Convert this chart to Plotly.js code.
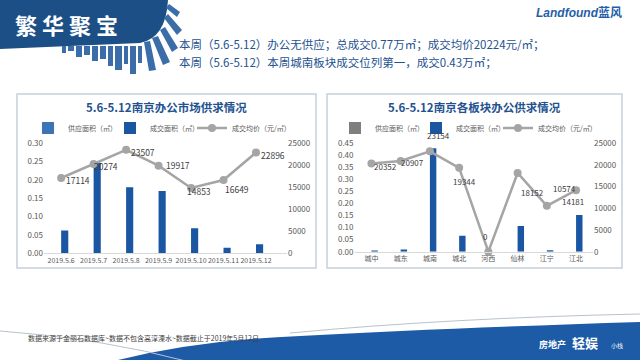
<!DOCTYPE html>
<html><head><meta charset="utf-8">
<script src="https://cdn.plot.ly/plotly-3.0.1.min.js"></script>
<style>html,body{margin:0;padding:0;background:#fff;overflow:hidden}#c{width:640px;height:360px}</style>
</head><body><div id="c"></div>
<script>
// ---- data ----
const datesL = ['2019.5.6','2019.5.7','2019.5.8','2019.5.9','2019.5.10','2019.5.11','2019.5.12'];
const supplyL = [0,0,0,0,0,0,0];
const dealL = [0.062,0.247,0.180,0.170,0.068,0.015,0.025];
const priceL = [17114,20274,23507,19917,14853,16649,22896];

const areasR = ['城中','城东','城南','城北','河西','仙林','江宁','江北'];
const supplyR = [0,0,0,0,0,0,0,0];
const dealR = [0.005,0.009,0.429,0.066,0,0.107,0.006,0.152];
const priceR = [20352,20907,23154,19344,0,18152,10574,14181];

const legendNames = ['供应面积（㎡）','成交面积（㎡）','成交均价（元/㎡）'];
const titleL = '5.6-5.12南京办公市场供求情况';
const titleR = '5.6-5.12南京各板块办公供求情况';
const line1 = '本周（5.6-5.12）办公无供应；总成交0.77万㎡；成交均价20224元/㎡；';
const line2 = '本周（5.6-5.12）本周城南板块成交位列第一，成交0.43万㎡；';
const footer = '数据来源于金丽石数据库~数据不包含高淳溧水~数据截止于2019年5月12日';

// label offsets in pixels (style only)
const offL = [[17,2],[12,2],[17,2],[19,-1],[8,3],[13,9],[17,2]];
const offR = [[14,3],[12,1],[9,-16],[5,14],[-3,-15],[15,20],[18,-17],[-3,11]];

// ---- helpers ----
const W=640,H=360;
const px=x=>x/W, py=y=>1-y/H;
const P=s=>s.replace(/(-?\d+\.?\d*),(-?\d+\.?\d*)/g,(m,a,b)=>(a/W).toFixed(5)+','+(1-b/H).toFixed(5));
const F='"Noto Sans CJK SC", "Noto Sans", sans-serif';
const blueTitle='#24528f';
const tickF={family:F,size:8,color:'#595959'};

const traces=[
 {type:'bar',name:legendNames[0],x:datesL,y:supplyL,xaxis:'x',yaxis:'y',marker:{color:'#3e73b9'},legend:'legend'},
 {type:'bar',name:legendNames[1],x:datesL,y:dealL,xaxis:'x',yaxis:'y',marker:{color:'#1b56a3'},legend:'legend2'},
 {type:'scatter',mode:'lines+markers',name:legendNames[2],x:datesL,y:priceL,xaxis:'x',yaxis:'y2',
  line:{color:'#a5a5a5',width:2.5},marker:{color:'#a5a5a5',size:8},cliponaxis:false,legend:'legend3'},
 {type:'bar',name:legendNames[0],x:areasR,y:supplyR,xaxis:'x2',yaxis:'y3',marker:{color:'#7f7f7f'},legend:'legend4'},
 {type:'bar',name:legendNames[1],x:areasR,y:dealR,xaxis:'x2',yaxis:'y3',marker:{color:'#1b56a3'},legend:'legend5'},
 {type:'scatter',mode:'lines+markers',name:legendNames[2],x:areasR,y:priceR,xaxis:'x2',yaxis:'y4',
  line:{color:'#a5a5a5',width:2.5},marker:{color:'#a5a5a5',size:8},cliponaxis:false,legend:'legend6'}
];

const xCommon={type:'category',showgrid:false,showline:true,linecolor:'#d9d9d9',linewidth:1,ticks:'',tickangle:0,tickfont:{family:F,size:7,color:'#595959'},fixedrange:true,automargin:false};
const yCommon={showgrid:false,zeroline:false,showline:false,ticks:'',tickfont:tickF,fixedrange:true,automargin:false};

const banner='#1d4f87', sky='#3b6ea8';
const shapes=[
 {type:'rect',xref:'paper',yref:'paper',x0:px(17),x1:px(316),y0:py(268),y1:py(94),line:{color:'#c5d0dc',width:1.5},fillcolor:'rgba(0,0,0,0)',layer:'below'},
 {type:'rect',xref:'paper',yref:'paper',x0:px(327),x1:px(622),y0:py(268),y1:py(94),line:{color:'#c5d0dc',width:1.5},fillcolor:'rgba(0,0,0,0)',layer:'below'},
 {type:'path',xref:'paper',yref:'paper',path:P('M 0,0 L 168,0 Q 166,38 140,43 L 0,49 Z'),fillcolor:banner,line:{width:0}},
 {type:'path',xref:'paper',yref:'paper',path:P('M 118,360 Q 200,340 300,336 Q 450,328 640,322 L 640,360 Z'),fillcolor:'#1d5ba7',line:{width:0}},
 {type:'path',xref:'paper',yref:'paper',path:P('M 0,331 Q 100,338 190,362'),line:{color:'#b8c2cc',width:1}},
 {type:'path',xref:'paper',yref:'paper',path:P('M 290,333 Q 450,318 640,314'),line:{color:'#b8c2cc',width:1}}
];
const bld=[[62,66,53],[68,74,51],[76,82,57],[84,90,55],[92,98,61],[100,106,59],[108,113,66],[115,122,70],[124,128,64],[130,136,74],[138,142,63]];
bld.forEach(b=>shapes.push({type:'rect',xref:'paper',yref:'paper',x0:px(b[0]),x1:px(b[1]),y0:py(b[2]),y1:py(46),fillcolor:sky,line:{width:0}}));
const slant=['M 144,42 L 150,41 L 156,70 L 149,71 Z','M 152,38 L 158,36 L 170,62 L 163,65 Z','M 160,30 L 165,27 L 178,48 L 172,52 Z','M 164,18 L 168,14 L 182,30 L 177,35 Z','M 166,8 L 169,4 L 180,12 L 177,17 Z'];
slant.forEach(s=>shapes.push({type:'path',xref:'paper',yref:'paper',path:P(s),fillcolor:sky,line:{width:0}}));

const ann=(x,y,t,o)=>Object.assign({xref:'paper',yref:'paper',x:px(x),y:py(y),text:t,showarrow:false,xanchor:'left',yanchor:'middle'},o||{});
const annotations=[
 ann(13,24,'<b>繁 华 聚 宝</b>',{font:{family:F,size:22,color:'#ffffff'}}),
 ann(177,44,line1,{font:{family:F,size:11.5,color:blueTitle}}),
 ann(177,62,line2,{font:{family:F,size:11.5,color:blueTitle}}),
 ann(534,13,'<b><i>Landfound</i>蓝风</b>',{font:{family:'"Liberation Sans", '+F,size:12,color:'#1f5fa8'}}),
 ann(166,107,'<b>'+titleL+'</b>',{xanchor:'center',font:{family:F,size:11.5,color:blueTitle}}),
 ann(474,107,'<b>'+titleR+'</b>',{xanchor:'center',font:{family:F,size:11.5,color:blueTitle}}),
 ann(26,338,footer,{font:{family:F,size:7,color:'#404040'}}),
 ann(537,344,'<b>房地产</b>',{font:{family:F,size:9,color:'#ffffff'}}),
 ann(570,342,'<b>轻娱</b>',{font:{family:F,size:13,color:'#ffffff'}}),
 ann(609,345,'小栈',{font:{family:F,size:6,color:'#ffffff'}})
];
datesL.forEach((d,i)=>annotations.push({xref:'x',yref:'y2',x:d,y:priceL[i],text:String(priceL[i]),showarrow:false,
  xanchor:'center',yanchor:'middle',xshift:offL[i][0],yshift:-offL[i][1],font:{family:F,size:8.5,color:'#404040'}}));
areasR.forEach((d,i)=>annotations.push({xref:'x2',yref:'y4',x:d,y:priceR[i],text:String(priceR[i]),showarrow:false,
  xanchor:'center',yanchor:'middle',xshift:offR[i][0],yshift:-offR[i][1],font:{family:F,size:8,color:'#404040'}}));

const legBase={orientation:'h',xanchor:'left',yanchor:'middle',font:{family:F,size:7,color:'#595959'},bgcolor:'rgba(0,0,0,0)',itemwidth:30,y:py(128)};
const legX=[28,110,192,335,416,498];

const layout={
 width:640,height:360,margin:{l:0,r:0,t:0,b:0,autoexpand:false},paper_bgcolor:'#ffffff',plot_bgcolor:'rgba(0,0,0,0)',
 font:{family:F},barmode:'group',bargap:0.56,bargroupgap:0,
 xaxis:Object.assign({},xCommon,{domain:[px(44),px(287)],anchor:'y'}),
 yaxis:Object.assign({},yCommon,{domain:[py(253.3),py(143.3)],range:[0,0.30],dtick:0.05,tickformat:'.2f',anchor:'x'}),
 yaxis2:Object.assign({},yCommon,{overlaying:'y',side:'right',range:[0,25000],dtick:5000,tickformat:'d',anchor:'x'}),
 xaxis2:Object.assign({},xCommon,{domain:[px(354.5),px(593)],anchor:'y3'}),
 yaxis3:Object.assign({},yCommon,{domain:[py(251.7),py(143.3)],range:[0,0.45],dtick:0.05,tickformat:'.2f',anchor:'x2'}),
 yaxis4:Object.assign({},yCommon,{overlaying:'y3',side:'right',range:[0,25000],dtick:5000,tickformat:'d',anchor:'x2'}),
 showlegend:true,shapes:shapes,annotations:annotations
};
['legend','legend2','legend3','legend4','legend5','legend6'].forEach((k,i)=>{layout[k]=Object.assign({},legBase,{x:px(legX[i])});});
Plotly.newPlot('c',traces,layout,{staticPlot:true,displayModeBar:false});
</script></body></html>
